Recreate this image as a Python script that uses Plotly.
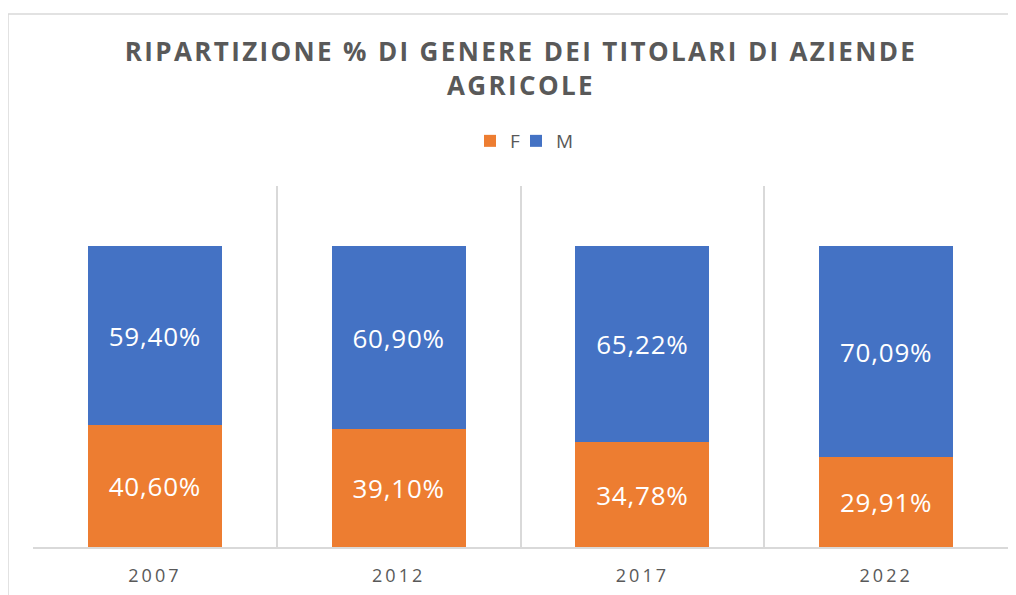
import plotly.graph_objects as go

years = ["2007", "2012", "2017", "2022"]
f_vals = [40.60, 39.10, 34.78, 29.91]
m_vals = [59.40, 60.90, 65.22, 70.09]
series_names = ["F", "M"]
colors = ["#ED7D31", "#4472C4"]
title_lines = ["RIPARTIZIONE % DI GENERE DEI TITOLARI DI AZIENDE", "AGRICOLE"]

def lab(v):
    s = f"{v:.2f}%".replace(".", ",")
    return f'<span style="letter-spacing:0.8px">{s}</span>'

W, H = 1016, 595
OFF = 8  # default page body margin
L, R, T, B = 33 - OFF, W + OFF - 1008, 186 - OFF, H + OFF - 547
PW, PH = W - L - R, H - T - B

legend_ids = ["legend", "legend2"]
legend_sq_px = [490, 536]  # target symbol centres (page px)

fig = go.Figure()
for name, vals, col, lg in zip(series_names, [f_vals, m_vals], colors, legend_ids):
    fig.add_trace(go.Bar(
        x=years, y=vals, name=name, marker=dict(color=col, line=dict(width=0)),
        text=[lab(v) for v in vals], textposition="inside", insidetextanchor="middle",
        textfont=dict(family="Open Sans", size=26, color="white"),
        hoverinfo="skip", legend=lg,
    ))

title_html = "<br>".join(f'<span style="letter-spacing:2.35px">{t}</span>' for t in title_lines)

def leg(px):
    return dict(orientation="h", x=(px - 33 - 20) / PW, xanchor="left",
                y=(547 - 141) / PH, yanchor="middle",
                font=dict(family="Open Sans", size=19, color="#595959"),
                itemwidth=30, bgcolor="rgba(0,0,0,0)")

fig.update_layout(
    width=W, height=H,
    barmode="stack", bargap=0.45,
    margin=dict(l=L, r=R, t=T, b=B, autoexpand=False),
    paper_bgcolor="white", plot_bgcolor="white",
    title=dict(text=title_html, x=(521 - OFF) / W, xanchor="center", xref="container",
               y=1 - (61 - OFF) / H, yanchor="middle", yref="container",
               font=dict(family="Open Sans", size=26, color="#595959", weight="bold")),
    legend=leg(legend_sq_px[0]),
    legend2=leg(legend_sq_px[1]),
    showlegend=True,
    xaxis=dict(type="category", tickson="boundaries", showgrid=True, gridcolor="#D9D9D9", gridwidth=1.5,
               showline=True, linecolor="#D9D9D9", linewidth=1.5, ticks="",
               tickvals=years,
               ticktext=[f'<span style="letter-spacing:3px">{y}</span>' for y in years],
               tickfont=dict(family="Open Sans", size=18, color="#595959"),
               ticklabelstandoff=12,
               fixedrange=True),
    yaxis=dict(range=[0, 120], showgrid=False, showticklabels=False, zeroline=False, showline=False,
               fixedrange=True),
)

# outer chart border
fig.add_shape(type="rect", xref="paper", yref="paper",
              x0=(8 - 33) / PW, x1=(1030 - 33) / PW,
              y0=(547 - 620) / PH, y1=(547 - 14) / PH,
              line=dict(color="#D9D9D9", width=1.5), fillcolor="rgba(0,0,0,0)", layer="below")

fig.write_html("out.html")
